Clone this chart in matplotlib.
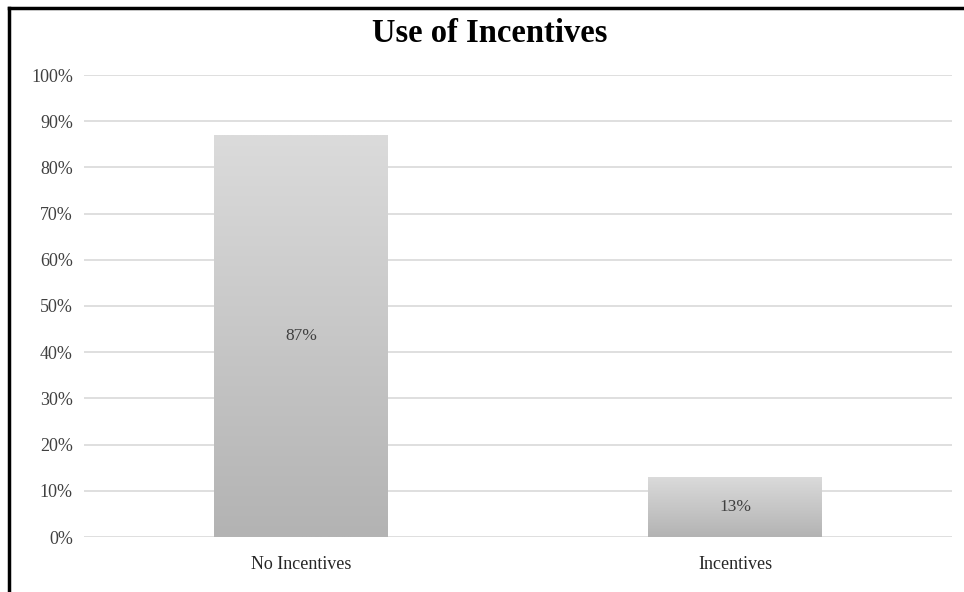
import matplotlib
matplotlib.use("Agg")
import matplotlib.pyplot as plt
import numpy as np
from matplotlib.lines import Line2D

categories = ["No Incentives", "Incentives"]
values = [87, 13]
yticks = [0, 10, 20, 30, 40, 50, 60, 70, 80, 90, 100]
title = "Use of Incentives"

plt.rcParams['font.family'] = ['Liberation Serif', 'DejaVu Serif']

W, H = 964, 592
fig = plt.figure(figsize=(W/100, H/100), dpi=100)
ax = fig.add_axes([84/W, 1-537/H, (952-84)/W, (537-75)/H])

x = np.arange(len(categories))
bars = ax.bar(x, values, width=0.4, color='none', edgecolor='none', zorder=3)
grad = np.linspace(0, 1, 256).reshape(-1, 1)
cmap = matplotlib.colors.LinearSegmentedColormap.from_list('g', ['#b3b3b3', '#dbdbdb'])
for b in bars:
    x0, y0 = b.get_x(), b.get_y()
    w, h = b.get_width(), b.get_height()
    im = ax.imshow(grad, extent=[x0, x0 + w, y0, y0 + h], origin='lower',
                   aspect='auto', cmap=cmap, zorder=3)
    im.set_clip_path(b)
    ax.text(x0 + w/2, y0 + h/2, f"{int(h)}%", ha='center', va='center',
            fontsize=12.5, color='#404040', zorder=4)

ax.set_xlim(-0.5, len(categories) - 0.5)
ax.set_ylim(0, 100)
ax.set_yticks(yticks)
ax.set_yticklabels([f"{t}%" for t in yticks], fontsize=13, color='#404040')
ax.set_xticks(x)
ax.set_xticklabels(categories, fontsize=13, color='#262626')
ax.tick_params(axis='both', length=0)
ax.tick_params(axis='y', pad=8)
ax.tick_params(axis='x', pad=14)
ax.grid(axis='y', color='#d9d9d9', linewidth=1.2, zorder=0)
ax.set_axisbelow(True)
for s in ax.spines.values():
    s.set_visible(False)

fig.text(490/W, 1-33/H, title, ha='center', va='center', fontsize=23.5,
         fontweight='bold', color='black')

fig.add_artist(Line2D([9/W, 9/W], [0, 1-8/H], color='black', linewidth=2.5,
                      transform=fig.transFigure))
fig.add_artist(Line2D([9/W, 1], [1-8/H, 1-8/H], color='black', linewidth=2.5,
                      transform=fig.transFigure))

fig.savefig('out.png', dpi=100)
